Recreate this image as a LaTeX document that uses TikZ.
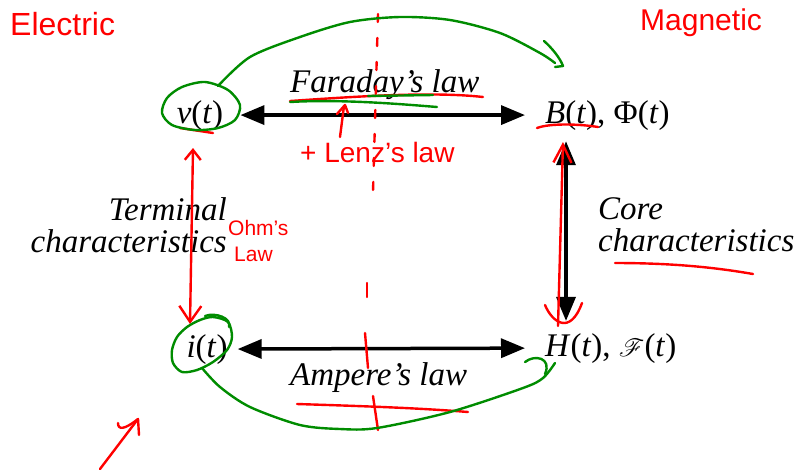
\documentclass[tikz,border=0pt]{standalone}
\usepackage{fontspec}
\setmainfont{Liberation Serif}
\newfontfamily\handfont{Liberation Sans}
\usepackage{mathrsfs}
\usetikzlibrary{arrows.meta}

\newcommand{\sig}[1]{\textit{#1}(\textit{t})}

\begin{document}
\begin{tikzpicture}[x=1pt, y=-1pt,
    every node/.style={font=\fontsize{33}{32}\selectfont, inner sep=0pt},
    lawlbl/.style={font=\fontsize{33}{32}\selectfont\itshape},
    law/.style={line width=3.5pt, {Triangle[length=24pt,width=19pt]}-{Triangle[length=24pt,width=19pt]}},
    pen/.style={red, line width=2.4pt, line cap=round, line join=round},
    gpen/.style={green!55!black, line width=2.4pt, line cap=round, line join=round},
    note/.style={red, font=\fontsize{28}{28}\selectfont\handfont}]
    \useasboundingbox (0,0) rectangle (799,475);

    % Grandezas elétricas e magnéticas
    \node[anchor=base] (v) at (200,123) {\sig{v}};
    \node[anchor=base west] (B) at (545,123) {\sig{B}, Φ(\textit{t})};
    \node[anchor=base] (i) at (207,357) {\sig{i}};
    \node[anchor=base west] (H) at (545,356) {\sig{H}, $\mathscr{F}$(\textit{t})};

    % Leis
    \draw[law, shorten <=17pt, shorten >=20pt] (v.east) -- (B.west);
    \draw[law, shorten <=10pt, shorten >=20pt] (i.east) -- (H.west);
    \draw[law, shorten <=11pt, shorten >=12pt]
        ([xshift=21pt]B.south west) -- ([xshift=21pt]H.north west);

    \node[lawlbl, anchor=base west] (far) at (290,92) {Faraday’s law};
    \node[lawlbl, anchor=base west] (amp) at (290,385) {Ampere’s law};
    \node[lawlbl, align=right, anchor=north east] (term) at (227,197)
        {Terminal\\characteristics};
    \node[lawlbl, align=left, anchor=north west] (core) at (598,197)
        {Core\\characteristics};

    % Anotações a mão
    \node[note, anchor=base west, font=\fontsize{32}{32}\selectfont\handfont] (elec) at (10,35) {Electric};
    \node[note, anchor=base west, font=\fontsize{30}{30}\selectfont\handfont] (mag) at (640,30) {Magnetic};
    \node[note, anchor=base west] (lenz) at (300,162) {+ Lenz’s law};
    \node[note, anchor=north west, align=left, font=\fontsize{21}{26}\selectfont\handfont] (ohm) at (228,220)
        {Ohm’s\\\hspace*{6pt}Law};

    % Linha tracejada
    \draw[pen, dash pattern=on 8pt off 16pt] (378,14) -- (373,192);
    \draw[pen] (367,283) -- (367,297);
    \draw[pen] (365,333) -- (368,368);
    \draw[pen] (373,396) -- (378,430);

    % Sublinhados
    \draw[pen] (290,101) .. controls (350,97) and (430,91) .. (483,97);
    \draw[gpen] (290,102) .. controls (340,99) and (400,104) .. (437,107);
    \draw[gpen] (368,96) -- (433,95);
    \draw[pen] (180,128) -- (213,133);
    \draw[pen] (537,128) .. controls (550,123) and (580,124) .. (598,127);
    \draw[pen] (615,263) .. controls (670,263) and (713,267) .. (753,274);
    \draw[pen] (297,404) .. controls (360,406) and (420,408) .. (468,412);
    \draw[pen] (340,137) -- (344,106);
    \draw[pen] (337,114) -- (345,105) -- (348,113);

    % Setas vermelhas
    \draw[pen, {Straight Barb[length=10pt,width=16pt]}-{Straight Barb[length=16pt,width=22pt]}]
        (193,148) -- (190,324);
    \draw[pen, {Straight Barb[length=18pt,width=18pt]}-] (563,142) -- (558,326);
    \draw[pen] (545,305) .. controls (552,322) and (570,336) .. (582,303);
    \draw[pen] (100,469) -- (138,419);
    \draw[pen] (118,423) .. controls (118,430) and (124,430) .. (138,419) -- (139,435);

    % Círculos verdes
    \draw[gpen] plot[smooth cycle] coordinates {(162,113) (167,98) (182,87) (205,82)
        (228,90) (240,105) (235,120) (218,128) (195,130) (172,125)};
    \draw[gpen] plot[smooth cycle] coordinates {(172,350) (177,337) (187,327) (200,320)
        (213,317) (228,322) (232,337) (227,350) (213,362) (197,370) (182,372) (173,363)};
    \draw[gpen] (205,316) .. controls (215,312) and (232,318) .. (229,327);

    % Arcos verdes
    \draw[gpen] plot[smooth] coordinates {(218,86) (250,57) (300,37) (350,22) (400,17)
        (450,20) (500,33) (540,53) (555,63)};
    \draw[gpen] (544,41) .. controls (552,48) and (560,58) .. (563,66) -- (555,67);
    \draw[gpen] plot[smooth] coordinates {(202,368) (220,387) (250,407) (300,425) (340,429)
        (377,428) (450,412) (523,388) (543,378) (555,363)};
    \draw[gpen] (525,362) .. controls (535,354) and (552,358) .. (545,374);
\end{tikzpicture}
\end{document}
